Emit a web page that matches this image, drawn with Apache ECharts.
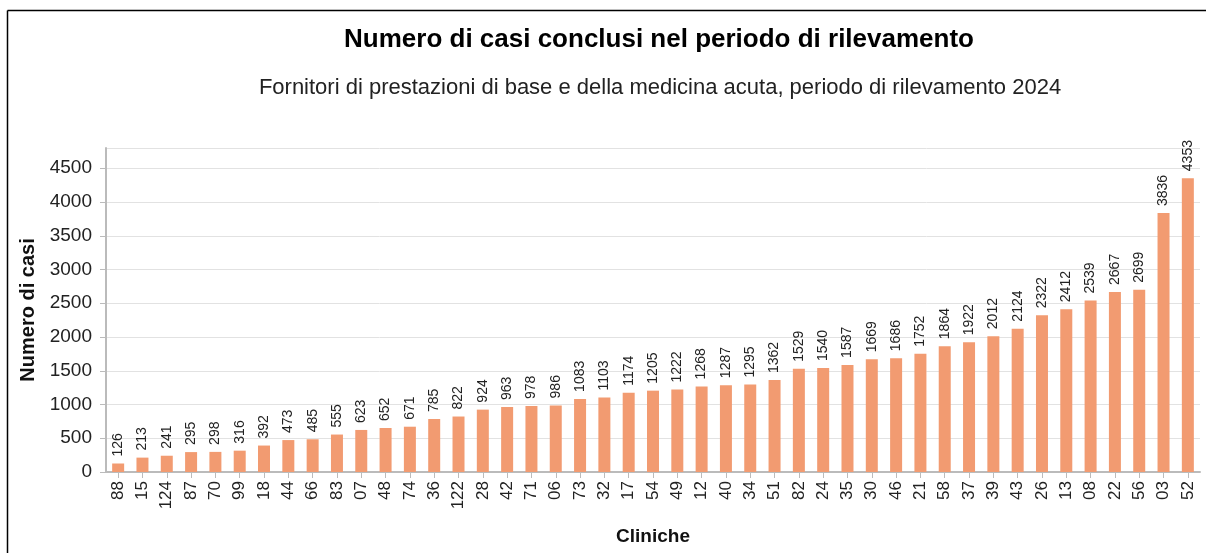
<!DOCTYPE html>
<html>
<head>
<meta charset="utf-8">
<script src="https://cdn.jsdelivr.net/npm/echarts@6/dist/echarts.min.js"></script>
<style>
html,body{margin:0;padding:0;background:#fff;}
#chart{width:1206px;height:553px;}
</style>
</head>
<body>
<div id="chart"></div>
<script>
const categories = ['88','15','124','87','70','99','18','44','66','83','07','48','74','36','122','28','42','71','06','73','32','17','54','49','12','40','34','51','82','24','35','30','46','21','58','37','39','43','26','13','08','22','56','03','52'];
const values = [126,213,241,295,298,316,392,473,485,555,623,652,671,785,822,924,963,978,986,1083,1103,1174,1205,1222,1268,1287,1295,1362,1529,1540,1587,1669,1686,1752,1864,1922,2012,2124,2322,2412,2539,2667,2699,3836,4353];
const titleText = 'Numero di casi conclusi nel periodo di rilevamento';
const subtitleText = 'Fornitori di prestazioni di base e della medicina acuta, periodo di rilevamento 2024';
const yName = 'Numero di casi';
const xName = 'Cliniche';

const FONT = 'Liberation Sans, Arial, sans-serif';
const chart = echarts.init(document.getElementById('chart'));
chart.setOption({
  animation: false,
  textStyle: {fontFamily: FONT},
  title: [{
    text: titleText,
    left: 654, top: 22, textAlign: 'center',
    textStyle: {fontSize: 26, fontWeight: 'bold', color: '#000', fontFamily: FONT}
  },{
    text: subtitleText,
    left: 655, top: 72, textAlign: 'center',
    textStyle: {fontSize: 22, fontWeight: 'normal', color: '#222', fontFamily: FONT}
  }],
  graphic: [
    {type: 'line', shape: {x1: 7.5, y1: 10.5, x2: 1206, y2: 10.5}, style: {stroke: '#000', lineWidth: 1.5}},
    {type: 'line', shape: {x1: 7.5, y1: 10.5, x2: 7.5, y2: 553}, style: {stroke: '#000', lineWidth: 1.5}}
  ],
  grid: {left: 106, right: 6, top: 148, bottom: 81, containLabel: false},
  xAxis: {
    type: 'category',
    data: categories,
    name: xName,
    nameLocation: 'middle',
    nameGap: 55,
    nameTextStyle: {fontSize: 19, fontWeight: 'bold', color: '#111'},
    axisLine: {lineStyle: {color: '#bbb', width: 2}},
    axisTick: {show: true, alignWithLabel: true, length: 6, lineStyle: {color: '#bbb'}},
    axisLabel: {rotate: 90, fontSize: 17, color: '#222', margin: 9, interval: 0}
  },
  yAxis: {
    type: 'value',
    min: 0, max: 4800, interval: 500,
    name: yName,
    nameLocation: 'middle',
    nameGap: 67,
    nameTextStyle: {fontSize: 20, fontWeight: 'bold', color: '#111'},
    axisLine: {show: true, lineStyle: {color: '#bbb', width: 2}},
    axisTick: {show: true, length: 6, lineStyle: {color: '#bbb'}},
    axisLabel: {fontSize: 19, color: '#222', margin: 14, showMaxLabel: false, formatter: v => String(v)},
    splitLine: {lineStyle: {color: '#e2e2e2'}}
  },
  series: [{
    type: 'bar',
    data: values,
    barWidth: 12,
    itemStyle: {color: '#f29b71'},
    label: {
      show: true, position: 'top', rotate: 90, align: 'left', verticalAlign: 'middle',
      distance: 7, fontSize: 14, color: '#222'
    }
  }]
});
</script>
</body>
</html>
